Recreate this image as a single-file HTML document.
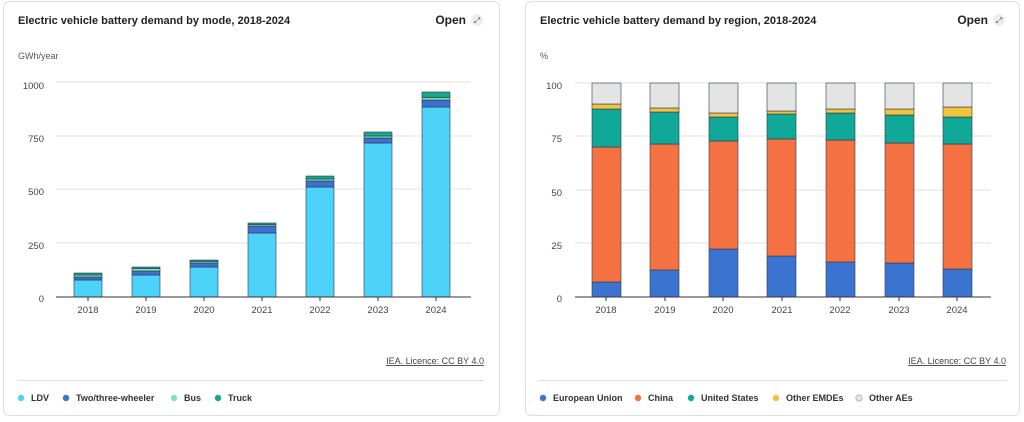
<!DOCTYPE html>
<html><head><meta charset="utf-8"><style>
body{margin:0;background:#fff;width:1024px;height:417px;overflow:hidden}
text{font-family:"Liberation Sans",sans-serif}
</style></head><body>
<svg width="1024" height="417" xmlns="http://www.w3.org/2000/svg">
<rect x="3.5" y="1.5" width="496" height="414" rx="6" fill="#fff" stroke="#ddd"/>
<rect x="525.5" y="1.5" width="494" height="414" rx="6" fill="#fff" stroke="#ddd"/>
<g font-size="11" fill="#222" font-weight="bold">
<text x="18" y="24">Electric vehicle battery demand by mode, 2018-2024</text>
<text x="540" y="24">Electric vehicle battery demand by region, 2018-2024</text>
<text x="466" y="24" text-anchor="end" font-size="12">Open</text>
<text x="988" y="24" text-anchor="end" font-size="12">Open</text>
</g>
<circle cx="477" cy="20" r="6" fill="#eee"/><text x="477" y="23" font-size="8" text-anchor="middle" fill="#444">⤢</text>
<circle cx="999" cy="20" r="6" fill="#eee"/><text x="999" y="23" font-size="8" text-anchor="middle" fill="#444">⤢</text>
<g font-size="9" fill="#555">
<text x="18" y="59">GWh/year</text>
<text x="540" y="59">%</text>
</g>
<g stroke="#e2e2e2">
<line x1="56" x2="471" y1="82" y2="82"/><line x1="56" x2="471" y1="136" y2="136"/><line x1="56" x2="471" y1="189" y2="189"/><line x1="56" x2="471" y1="243" y2="243"/>
<line x1="575" x2="991" y1="83" y2="83"/><line x1="575" x2="991" y1="136" y2="136"/><line x1="575" x2="991" y1="190" y2="190"/><line x1="575" x2="991" y1="243" y2="243"/>
</g>
<g font-size="9.5" fill="#444" text-anchor="end">
<text x="44" y="89">1000</text><text x="44" y="142">750</text><text x="44" y="195">500</text><text x="44" y="249">250</text><text x="44" y="302">0</text>
<text x="562" y="89">100</text><text x="562" y="142">75</text><text x="562" y="196">50</text><text x="562" y="249">25</text><text x="562" y="302">0</text>
</g>
<g id="L" stroke="#2a3a4a" stroke-width="0.6">
<!-- x,LDV,two,bus,truck tops -->
<rect x="74" y="280" width="28" height="17" fill="#4dd2fa"/><rect x="74" y="277" width="28" height="3" fill="#3f6fd1"/><rect x="74" y="275" width="28" height="2" fill="#7ee3b8"/><rect x="74" y="273" width="28" height="2" fill="#1aa58f"/>
<rect x="132" y="275" width="28" height="22" fill="#4dd2fa"/><rect x="132" y="271" width="28" height="4" fill="#3f6fd1"/><rect x="132" y="268.5" width="28" height="2.5" fill="#7ee3b8"/><rect x="132" y="267" width="28" height="1.5" fill="#1aa58f"/>
<rect x="190" y="267" width="28" height="30" fill="#4dd2fa"/><rect x="190" y="263" width="28" height="4" fill="#3f6fd1"/><rect x="190" y="261.5" width="28" height="1.5" fill="#7ee3b8"/><rect x="190" y="260" width="28" height="1.5" fill="#1aa58f"/>
<rect x="248" y="233" width="28" height="64" fill="#4dd2fa"/><rect x="248" y="226" width="28" height="7" fill="#3f6fd1"/><rect x="248" y="224.5" width="28" height="1.5" fill="#7ee3b8"/><rect x="248" y="223" width="28" height="1.5" fill="#1aa58f"/>
<rect x="306" y="187" width="28" height="110" fill="#4dd2fa"/><rect x="306" y="181" width="28" height="6" fill="#3f6fd1"/><rect x="306" y="179" width="28" height="2" fill="#7ee3b8"/><rect x="306" y="176" width="28" height="3" fill="#1aa58f"/>
<rect x="364" y="143" width="28" height="154" fill="#4dd2fa"/><rect x="364" y="138" width="28" height="5" fill="#3f6fd1"/><rect x="364" y="136" width="28" height="2" fill="#7ee3b8"/><rect x="364" y="132" width="28" height="4" fill="#1aa58f"/>
<rect x="422" y="107" width="28" height="190" fill="#4dd2fa"/><rect x="422" y="100" width="28" height="7" fill="#3f6fd1"/><rect x="422" y="97.5" width="28" height="2.5" fill="#7ee3b8"/><rect x="422" y="92" width="28" height="5.5" fill="#1aa58f"/>
</g>
<g stroke="#2a3a4a" stroke-width="0.6">
<!-- region bars: scale 2.14 px per % from y=297 -->
<rect x="592" y="282" width="29" height="15" fill="#3b74d0"/><rect x="592" y="147" width="29" height="135" fill="#f47142"/><rect x="592" y="109" width="29" height="38" fill="#10a898"/><rect x="592" y="104" width="29" height="5" fill="#f2c43d"/><rect x="592" y="83" width="29" height="21" fill="#e4e4e4"/>
<rect x="650" y="270" width="29" height="27" fill="#3b74d0"/><rect x="650" y="144" width="29" height="126" fill="#f47142"/><rect x="650" y="112" width="29" height="32" fill="#10a898"/><rect x="650" y="108" width="29" height="4" fill="#f2c43d"/><rect x="650" y="83" width="29" height="25" fill="#e4e4e4"/>
<rect x="709" y="249" width="29" height="48" fill="#3b74d0"/><rect x="709" y="141" width="29" height="108" fill="#f47142"/><rect x="709" y="117" width="29" height="24" fill="#10a898"/><rect x="709" y="113" width="29" height="4" fill="#f2c43d"/><rect x="709" y="83" width="29" height="30" fill="#e4e4e4"/>
<rect x="767" y="256" width="29" height="41" fill="#3b74d0"/><rect x="767" y="139" width="29" height="117" fill="#f47142"/><rect x="767" y="114" width="29" height="25" fill="#10a898"/><rect x="767" y="111" width="29" height="3" fill="#f2c43d"/><rect x="767" y="83" width="29" height="28" fill="#e4e4e4"/>
<rect x="826" y="262" width="29" height="35" fill="#3b74d0"/><rect x="826" y="140" width="29" height="122" fill="#f47142"/><rect x="826" y="113" width="29" height="27" fill="#10a898"/><rect x="826" y="109" width="29" height="4" fill="#f2c43d"/><rect x="826" y="83" width="29" height="26" fill="#e4e4e4"/>
<rect x="885" y="263" width="29" height="34" fill="#3b74d0"/><rect x="885" y="143" width="29" height="120" fill="#f47142"/><rect x="885" y="115" width="29" height="28" fill="#10a898"/><rect x="885" y="109" width="29" height="6" fill="#f2c43d"/><rect x="885" y="83" width="29" height="26" fill="#e4e4e4"/>
<rect x="943" y="269" width="29" height="28" fill="#3b74d0"/><rect x="943" y="144" width="29" height="125" fill="#f47142"/><rect x="943" y="117" width="29" height="27" fill="#10a898"/><rect x="943" y="107" width="29" height="10" fill="#f2c43d"/><rect x="943" y="83" width="29" height="24" fill="#e4e4e4"/>
</g>
<g stroke="#333" stroke-width="1">
<line x1="56" x2="471" y1="297" y2="297"/><line x1="575" x2="991" y1="297" y2="297"/>
<path d="M88 297v4M146 297v4M204 297v4M262 297v4M320 297v4M378 297v4M436 297v4M606 297v4M665 297v4M723 297v4M782 297v4M840 297v4M899 297v4M957 297v4"/>
</g>
<g font-size="9.5" fill="#444" text-anchor="middle">
<text x="88" y="313">2018</text><text x="146" y="313">2019</text><text x="204" y="313">2020</text><text x="262" y="313">2021</text><text x="320" y="313">2022</text><text x="378" y="313">2023</text><text x="436" y="313">2024</text>
<text x="606" y="313">2018</text><text x="665" y="313">2019</text><text x="723" y="313">2020</text><text x="782" y="313">2021</text><text x="840" y="313">2022</text><text x="899" y="313">2023</text><text x="957" y="313">2024</text>
</g>
<g font-size="9" fill="#444" text-anchor="end" text-decoration="underline">
<text x="484" y="364">IEA. Licence: CC BY 4.0</text>
<text x="1006" y="364">IEA. Licence: CC BY 4.0</text>
</g>
<line x1="17" x2="484" y1="380.5" y2="380.5" stroke="#ddd"/>
<line x1="539" x2="1007" y1="380.5" y2="380.5" stroke="#ddd"/>
<g font-size="9" fill="#333" font-weight="bold">
<circle cx="21" cy="398" r="3.2" fill="#4dd2fa"/><text x="31" y="401">LDV</text>
<circle cx="66" cy="398" r="3.2" fill="#3f6fd1"/><text x="76" y="401">Two/three-wheeler</text>
<circle cx="174" cy="398" r="3.2" fill="#7ee3b8"/><text x="184" y="401">Bus</text>
<circle cx="218" cy="398" r="3.2" fill="#1aa58f"/><text x="228" y="401">Truck</text>
<circle cx="543" cy="398" r="3.2" fill="#3b74d0"/><text x="553" y="401">European Union</text>
<circle cx="638" cy="398" r="3.2" fill="#f47142"/><text x="648" y="401">China</text>
<circle cx="691" cy="398" r="3.2" fill="#10a898"/><text x="701" y="401">United States</text>
<circle cx="776" cy="398" r="3.2" fill="#f2c43d"/><text x="786" y="401">Other EMDEs</text>
<circle cx="859" cy="398" r="3.2" fill="#e4e4e4" stroke="#999" stroke-width="0.6"/><text x="869" y="401">Other AEs</text>
</g>
</svg>
</body></html>
